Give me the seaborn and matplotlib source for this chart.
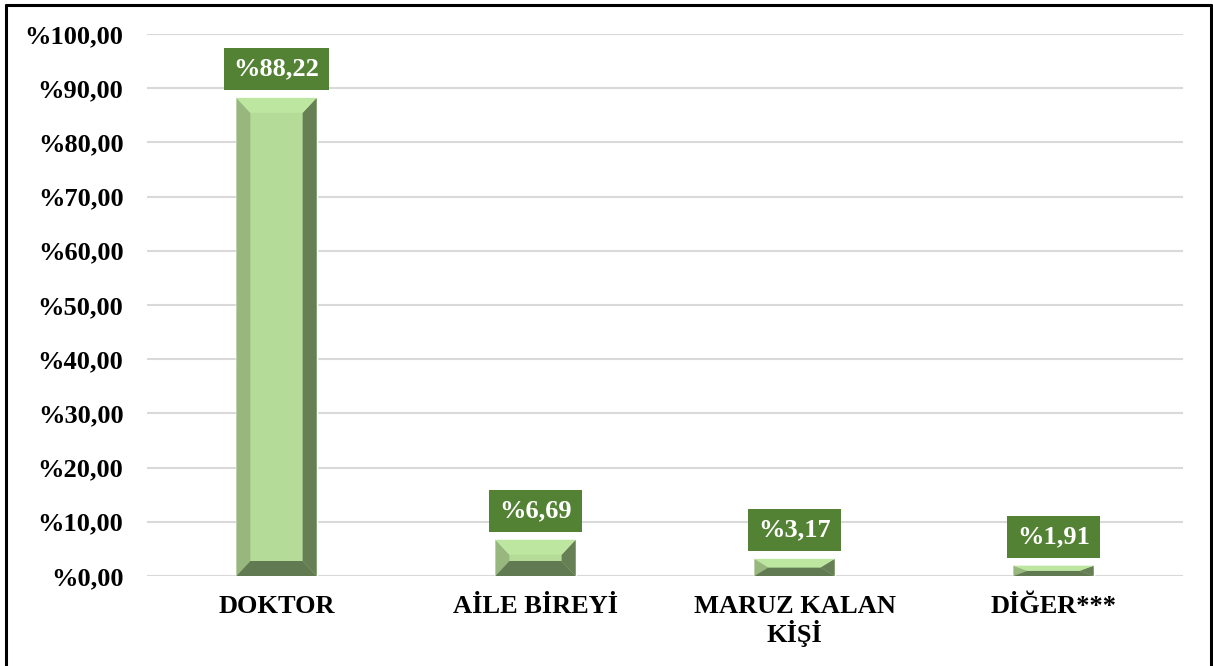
import numpy as np
import pandas as pd
import seaborn as sns
import matplotlib.pyplot as plt
from matplotlib.patches import Polygon
from matplotlib.lines import Line2D

categories = ["DOKTOR", "AİLE BİREYİ", "MARUZ KALAN\nKİŞİ", "DİĞER***"]
values = [88.22, 6.69, 3.17, 1.91]
yticks = [0, 10, 20, 30, 40, 50, 60, 70, 80, 90, 100]

df = pd.DataFrame({"kategori": categories, "oran": values})

sns.set_style("white")
plt.rcParams["font.family"] = ["Liberation Serif", "DejaVu Serif"]
plt.rcParams["font.weight"] = "bold"

fig = plt.figure(figsize=(12.13, 6.66), dpi=100)
ax = fig.add_axes([147 / 1213, 90 / 666, 1036 / 1213, 542 / 666])

front = "#b4dc98"
sns.barplot(data=df, x="kategori", y="oran", color=front, width=0.31,
            saturation=1, ax=ax, zorder=3)

# bevel effect on each bar
px_x = 1036 / 4          # pixels per category unit
px_y = 542 / 100         # pixels per y unit
for p, v in zip(ax.patches, values):
    x0 = p.get_x()
    x1 = x0 + p.get_width()
    y0 = 0
    y1 = p.get_height()
    bx = 14 / px_x
    by = min(15 / px_y, y1 / 2)
    facets = [
        ([(x0, y0), (x0 + bx, y0 + by), (x0 + bx, y1 - by), (x0, y1)], "#97b77e"),
        ([(x1, y0), (x1 - bx, y0 + by), (x1 - bx, y1 - by), (x1, y1)], "#667f55"),
        ([(x0, y0), (x1, y0), (x1 - bx, y0 + by), (x0 + bx, y0 + by)], "#627a52"),
        ([(x0, y1), (x1, y1), (x1 - bx, y1 - by), (x0 + bx, y1 - by)], "#bde6a1"),
    ]
    for pts, c in facets:
        ax.add_patch(Polygon(pts, closed=True, facecolor=c, edgecolor="none", zorder=4))
    lab = "%" + f"{v:.2f}".replace(".", ",")
    ax.text(x0 + p.get_width() / 2, y1 + 3.2, lab, ha="center", va="bottom",
            color="white", fontsize=19, fontweight="bold", zorder=5,
            bbox=dict(boxstyle="square,pad=0.37", facecolor="#548235", edgecolor="none"))

ax.set_ylim(0, 100)
ax.set_xlim(-0.5, 3.5)
ax.set_yticks(yticks)
ax.set_yticklabels(["%" + f"{t:.2f}".replace(".", ",") for t in yticks])
ax.yaxis.grid(True, color="#d9d9d9", linewidth=1.5, zorder=0)
ax.set_axisbelow(True)
ax.tick_params(axis="y", length=0, pad=17, labelsize=19, labelcolor="black")
ax.tick_params(axis="x", length=0, pad=14, labelsize=19, labelcolor="black")
for lbl in ax.get_xticklabels() + ax.get_yticklabels():
    lbl.set_fontweight("bold")
    lbl.set_linespacing(1.05)
ax.set_xlabel("")
ax.set_ylabel("")
sns.despine(ax=ax, left=True, bottom=True)

# frame around the chart
for xs, ys in [([6 / 1213, 6 / 1213], [0, 1 - 5 / 666]),
               ([6 / 1213, 1211 / 1213], [1 - 5 / 666, 1 - 5 / 666]),
               ([1211 / 1213, 1211 / 1213], [0, 1 - 5 / 666])]:
    fig.add_artist(Line2D(xs, ys, color="black", linewidth=2.2, transform=fig.transFigure))

fig.savefig("out.png", dpi=100)
